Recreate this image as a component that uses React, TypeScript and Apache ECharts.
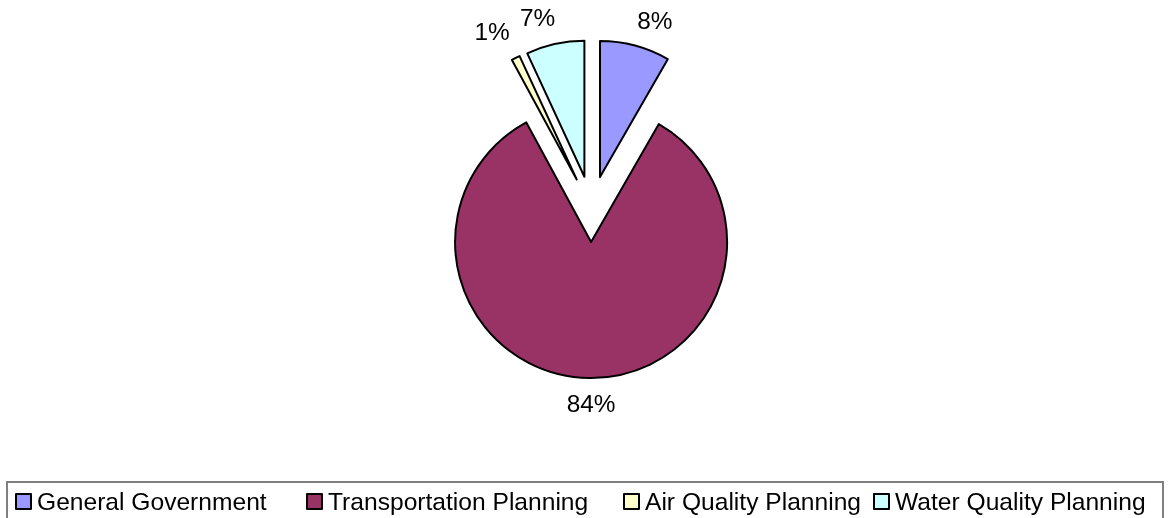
import { useEffect, useRef } from 'react';
import * as echarts from 'echarts';

const categories = ['General Government', 'Transportation Planning', 'Air Quality Planning', 'Water Quality Planning'];
const shares = [8.3, 83.8, 1.0, 6.9];
const colors = ['#9999FF', '#993366', '#FFFFCC', '#CCFFFF'];
const labelShiftX = [8, 7, -7, -7];
const labelShiftY = [0, 0, -3, -1];
const legendLeft = [15, 306, 623, 873];
const FONT = '"Liberation Sans", Arial, sans-serif';

export default function App() {
  const ref = useRef<HTMLDivElement>(null);
  useEffect(() => {
    const chart = echarts.init(ref.current!, null, { renderer: 'svg' });
    chart.setOption({
      animation: false,
      textStyle: { fontFamily: FONT },
      graphic: [
        {
          type: 'rect',
          silent: true,
          shape: { x: 7, y: 482, width: 1156, height: 60 },
          style: { fill: 'none', stroke: '#808080', lineWidth: 2 },
        },
      ],
      legend: categories.map((c, i) => ({
        data: [c],
        left: legendLeft[i],
        top: 489,
        padding: 0,
        icon: 'rect',
        itemWidth: 15,
        itemHeight: 15,
        itemGap: 0,
        selectedMode: false,
        textStyle: { fontSize: 24.6, color: '#000', fontFamily: FONT, padding: [0, 0, 0, 1] },
        itemStyle: { borderColor: '#000', borderWidth: 2 },
      })),
      series: [
        {
          type: 'pie',
          center: [591.5, 209],
          radius: 136,
          startAngle: 90,
          clockwise: true,
          selectedMode: 'multiple',
          selectedOffset: 33,
          avoidLabelOverlap: false,
          itemStyle: { borderColor: '#000', borderWidth: 2 },
          label: {
            show: true,
            position: 'outside',
            formatter: (p: any) => Math.round(p.percent) + '%',
            fontSize: 24.4,
            color: '#000',
            fontFamily: FONT,
          },
          labelLine: { show: false, length: 26, length2: 0 },
          labelLayout: (p: any) => ({
            align: 'center',
            dx: labelShiftX[p.dataIndex],
            dy: labelShiftY[p.dataIndex],
          }),
          emphasis: { disabled: true },
          data: categories.map((name, i) => ({
            name,
            value: shares[i],
            selected: true,
            itemStyle: { color: colors[i] },
          })),
        },
      ],
    });
    return () => chart.dispose();
  }, []);
  return <div ref={ref} style={{ position: 'fixed', left: 0, top: 0, width: 1169, height: 518 }} />;
}
